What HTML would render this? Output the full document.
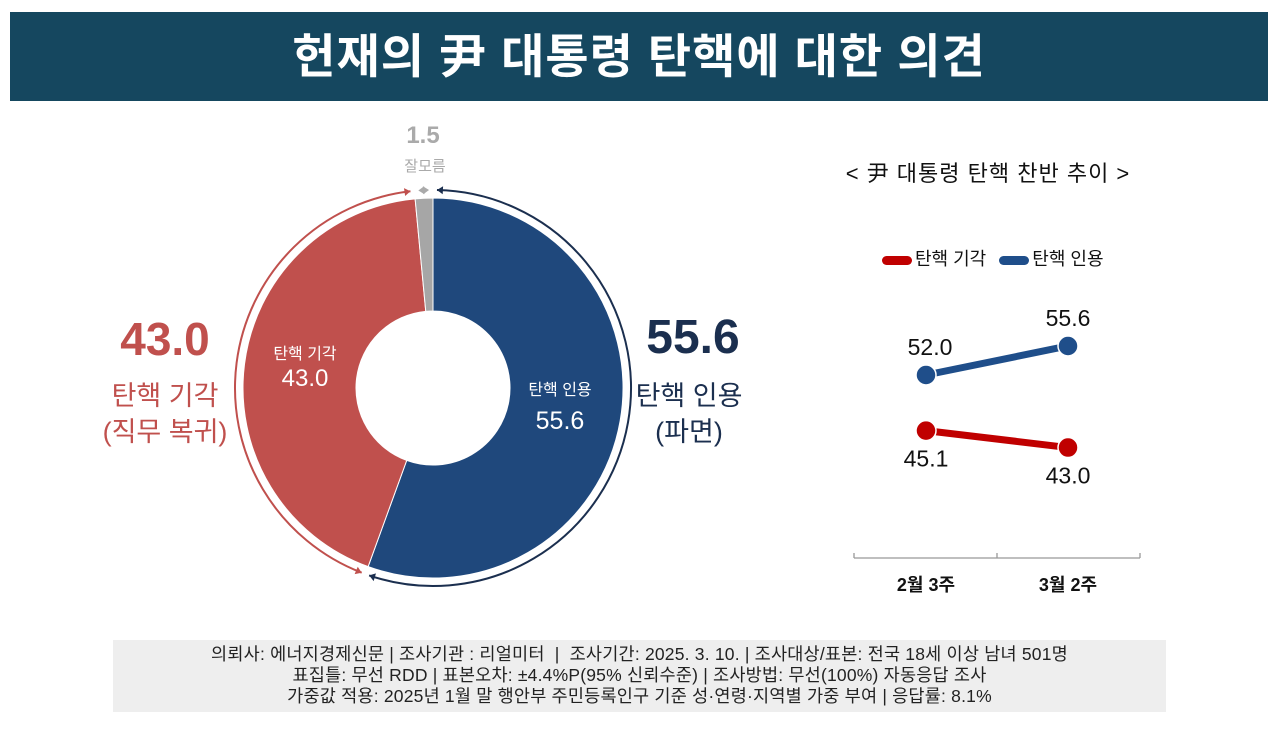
<!DOCTYPE html>
<html><head><meta charset="utf-8"><style>
body{margin:0;width:1280px;height:737px;background:#fff;overflow:hidden;font-family:"Liberation Sans","Noto Sans CJK KR",sans-serif;position:relative}
.abs{position:absolute}
</style></head><body>
<div class="abs" style="left:10px;top:12px;width:1258px;height:89px;background:#15475f;color:#fff;font-size:47px;font-weight:bold;text-align:center;line-height:89px;letter-spacing:1px">헌재의 尹 대통령 탄핵에 대한 의견</div>

<svg class="abs" style="left:0;top:0" width="1280" height="737">
<g id="donut"></g>
<g id="line"></g>
</svg>

<div class="abs" style="left:383px;top:122px;width:80px;text-align:center;color:#aaa;font-size:24px;font-weight:bold">1.5</div>
<div class="abs" style="left:385px;top:155px;width:80px;text-align:center;color:#aaa;font-size:15px">잘모름</div>
<div class="abs" style="left:90px;top:312px;width:150px;text-align:center;color:#c0504d;font-size:46px;font-weight:bold">43.0</div>
<div class="abs" style="left:90px;top:378px;width:150px;text-align:center;color:#c0504d;font-size:27px;line-height:36px">탄핵 기각<br>(직무 복귀)</div>
<div class="abs" style="left:618px;top:310px;width:150px;text-align:center;color:#1b2f4f;font-size:48px;font-weight:bold">55.6</div>
<div class="abs" style="left:614px;top:378px;width:150px;text-align:center;color:#1b2f4f;font-size:27px;line-height:36px">탄핵 인용<br>(파면)</div>
<div class="abs" style="left:250px;top:343px;width:110px;text-align:center;color:#fff;font-size:16px;line-height:24px">탄핵 기각<br><span style="font-size:24px">43.0</span></div>
<div class="abs" style="left:505px;top:376px;width:110px;text-align:center;color:#fff;font-size:16px;line-height:30px">탄핵 인용<br><span style="font-size:25px">55.6</span></div>

<div class="abs" style="left:808px;top:156px;width:360px;text-align:center;font-size:22px;letter-spacing:1px;color:#111">&lt; 尹 대통령 탄핵 찬반 추이 &gt;</div>
<div class="abs" style="left:882px;top:245px;font-size:18px;color:#111;white-space:nowrap">
<span><span style="display:inline-block;width:30px;height:9px;border-radius:5px;background:#c00000;vertical-align:middle;margin-right:3px"></span>탄핵 기각</span>
<span style="margin-left:8px"><span style="display:inline-block;width:30px;height:9px;border-radius:5px;background:#1f4e8a;vertical-align:middle;margin-right:3px"></span>탄핵 인용</span>
</div>

<div class="abs" style="left:113px;top:640px;width:1053px;height:72px;background:#eeeeee;text-align:center;font-size:17.5px;line-height:21px;color:#222;padding-top:4px;box-sizing:border-box;white-space:nowrap;letter-spacing:0.2px">의뢰사: 에너지경제신문 | 조사기관 : 리얼미터 &nbsp;| &nbsp;조사기간: 2025. 3. 10. | 조사대상/표본: 전국 18세 이상 남녀 501명<br>표집틀: 무선 RDD | 표본오차: ±4.4%P(95% 신뢰수준) | 조사방법: 무선(100%) 자동응답 조사<br>가중값 적용: 2025년 1월 말 행안부 주민등록인구 기준 성·연령·지역별 가중 부여 | 응답률: 8.1%</div>

<script>
const sliceNames=["accept","reject","dontknow"];
const sliceValues=[55.6,43.0,1.5];
const sliceColors=["#1f487c","#c0504d","#a6a6a6"];
const periods=["2월 3주","3월 2주"];
const acceptSeries=[52.0,55.6];
const rejectSeries=[45.1,43.0];

const NS="http://www.w3.org/2000/svg";
function mk(tag,attrs,parent){const e=document.createElementNS(NS,tag);for(const k in attrs)e.setAttribute(k,attrs[k]);parent.appendChild(e);return e;}
const cx=433,cy=388,R=190,r=77,total=sliceValues.reduce((a,b)=>a+b,0);
function pt(a,rad){return [cx+rad*Math.sin(a),cy-rad*Math.cos(a)];}
const dg=document.getElementById('donut');
let a0=0;const angles=[];
sliceValues.forEach((v,i)=>{
  const a1=a0+v/total*2*Math.PI;angles.push([a0,a1]);
  const lg=(a1-a0)>Math.PI?1:0;
  const p1=pt(a0,R),p2=pt(a1,R),p3=pt(a1,r),p4=pt(a0,r);
  const p=mk('path',{d:`M${p1}L${p1}A${R},${R} 0 ${lg} 1 ${p2}L${p3}A${r},${r} 0 ${lg} 0 ${p4}Z`,fill:sliceColors[i],stroke:'#fff','stroke-width':1},dg);
  
  
  a0=a1;
});
const arrowCols=["#1b2f4f","#c0504d","#aaa"];
angles.forEach(([s,e],i)=>{
  const RA=198,pad=0.02;
  const s2=s+pad,e2=e-pad;const lg=(e2-s2)>Math.PI?1:0;
  const p1=pt(s2,RA),p2=pt(e2,RA);
  if(i<2){const arc=mk('path',{d:`M${p1}A${RA},${RA} 0 ${lg} 1 ${p2}`,fill:'none',stroke:arrowCols[i],'stroke-width':2},dg);
  
  }
  [[s2,1],[e2,-1]].forEach(([a,d])=>{
    const tip=pt(a,RA),b=pt(a+d*0.03,RA);
    const nx=Math.sin(a+d*0.03)*4,ny=-Math.cos(a+d*0.03)*4;
    const h=mk('polygon',{points:`${tip} ${b[0]+nx},${b[1]+ny} ${b[0]-nx},${b[1]-ny}`,fill:arrowCols[i]},dg);
    
    
  });
});

const lg2=document.getElementById('line');
const xs=i=>926+i*142;
const ys=v=>375-(v-52)*8.06;
const ax=mk('path',{d:'M854,558H1140M854,553V558M997,553V558M1140,553V558',stroke:'#999',fill:'none','stroke-width':1.3},lg2);


periods.forEach((p,i)=>{const t=mk('text',{x:xs(i),y:591,'text-anchor':'middle','font-size':18,'font-weight':'bold',fill:'#111'},lg2);t.textContent=p;

});
[[acceptSeries,'#1f4e8a','accept',-1],[rejectSeries,'#c00000','reject',1]].forEach(([s,c,n,dir])=>{
  const l=mk('polyline',{points:s.map((v,i)=>xs(i)+','+ys(v)).join(' '),stroke:c,'stroke-width':7,fill:'none'},lg2);
  
  
  s.forEach((v,i)=>{
    const d=mk('circle',{cx:xs(i),cy:ys(v),r:10,fill:c,stroke:'#fff','stroke-width':1.5},lg2);
    
    
    const t=mk('text',{x:xs(i)+(n==='accept'&&i===0?4:0),y:ys(v)+(dir<0?-20:36),'text-anchor':'middle','font-size':23,fill:'#111'},lg2);
    t.textContent=v.toFixed(1);
    
    
  });
});
</script>
</body></html>
